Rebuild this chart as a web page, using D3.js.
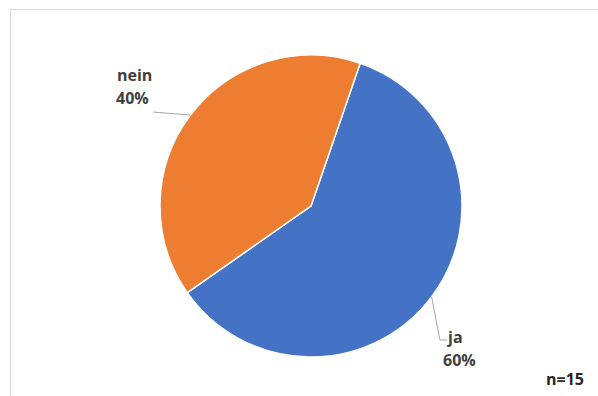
<!DOCTYPE html>
<html>
<head>
<meta charset="utf-8">
<script src="https://cdn.jsdelivr.net/npm/d3@7"></script>
<style>
  html, body { margin: 0; padding: 0; background: #fff; }
  svg { display: block; }
  text { font-family: "Open Sans", "Liberation Sans", sans-serif; }
</style>
</head>
<body>
<svg id="chart" width="598" height="396"></svg>
<script>
// Survey answers
const categories = ["ja", "nein"];
const values = [60, 40];
const colors = ["#4472C4", "#ED7D31"];
const sampleNote = "n=15";

const svg = d3.select("#chart");
const W = 598, H = 396;

// chart area frame
svg.append("rect")
  .attr("x", 10.5).attr("y", 9.5)
  .attr("width", W).attr("height", H)
  .attr("fill", "#fff")
  .attr("stroke", "#d9d9d9")
  .attr("stroke-width", 1);

const cx = 311, cy = 206, r = 151;
const start = 19 * Math.PI / 180;

const pie = d3.pie().sort(null).value(d => d)
  .startAngle(start).endAngle(start + 2 * Math.PI);
const arcs = pie(values);
const arc = d3.arc().innerRadius(0).outerRadius(r);

const g = svg.append("g").attr("transform", `translate(${cx},${cy})`);
g.selectAll("path.slice")
  .data(arcs)
  .join("path")
  .attr("class", "slice")
  .attr("d", arc)
  .attr("fill", (d, i) => colors[i])
  .attr("stroke", "#fff")
  .attr("stroke-width", 1.5);

// label placement (relative to chart center) and leader elbows
const labelPos = [
  { x: 132, y: 137, firstX: 137, elbow: [[129, 134], [136, 134]] },
  { x: -195, y: -125, firstX: -194, elbow: [[-158, -94]] }
];

arcs.forEach((d, i) => {
  const mid = (d.startAngle + d.endAngle) / 2;
  const p0 = [r * Math.sin(mid), -r * Math.cos(mid)];
  const pts = [p0].concat(labelPos[i].elbow);
  g.append("path")
    .attr("d", d3.line()(pts))
    .attr("fill", "none")
    .attr("stroke", "#a6a6a6")
    .attr("stroke-width", 1);

  const t = g.append("text")
    .attr("y", labelPos[i].y)
    .attr("fill", "#404040")
    .attr("font-size", 16)
    .attr("font-weight", "bold");
  t.append("tspan")
    .attr("x", labelPos[i].firstX)
    .text(categories[i]);
  t.append("tspan")
    .attr("x", labelPos[i].x)
    .attr("dy", 23)
    .text(values[i] + "%");
});

svg.append("text")
  .attr("x", 546).attr("y", 385)
  .attr("fill", "#262626")
  .attr("font-size", 16)
  .attr("font-weight", "bold")
  .text(sampleNote);
</script>
</body>
</html>
